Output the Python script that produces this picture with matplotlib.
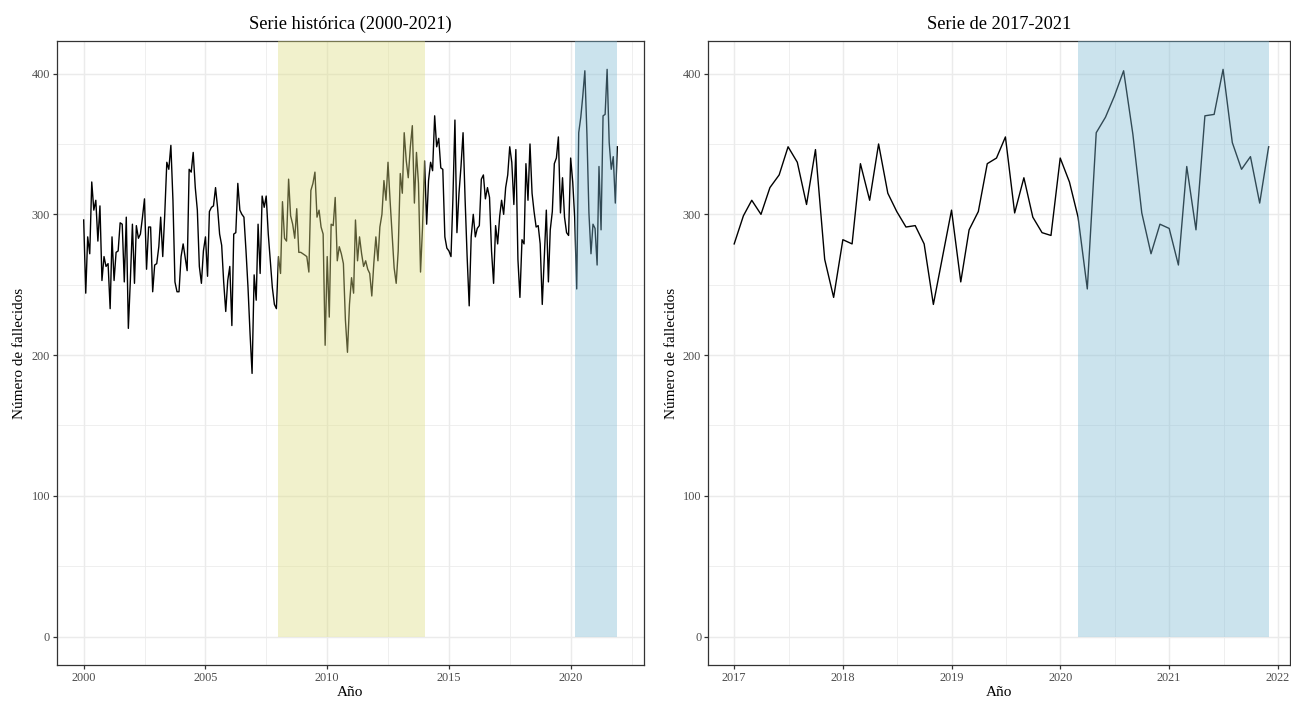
import datetime as dt

import matplotlib
matplotlib.use("Agg")
from matplotlib import pyplot as plt
import matplotlib.dates as mdates
import pandas as pd

plt.rcParams["font.family"] = ["Liberation Serif", "DejaVu Serif"]

# Fallecidos mensuales, de enero a diciembre
fallecidos_2000_2003 = [
    296, 244, 284, 272, 323, 303, 310, 281, 306, 253, 270, 263,
    265, 233, 284, 253, 273, 274, 294, 293, 252, 298, 219, 253,
    293, 251, 292, 283, 286, 298, 311, 261, 291, 291, 245, 264,
    265, 277, 298, 270, 300, 337, 332, 349, 310, 252, 245, 245,
]
fallecidos_2004_2007 = [
    270, 279, 270, 260, 332, 330, 344, 319, 303, 263, 251, 274,
    284, 256, 302, 305, 306, 319, 305, 286, 278, 252, 231, 253,
    263, 221, 286, 287, 322, 303, 300, 298, 274, 248, 215, 187,
    257, 239, 293, 258, 313, 305, 313, 286, 267, 248, 236, 233,
]
fallecidos_2008_2011 = [
    270, 258, 309, 283, 281, 325, 299, 293, 283, 304, 273, 273,
    272, 271, 270, 259, 317, 322, 330, 298, 303, 291, 286, 207,
    270, 227, 293, 292, 312, 267, 277, 272, 265, 225, 202, 236,
    255, 244, 296, 267, 284, 272, 263, 267, 261, 258, 242, 265,
]
fallecidos_2012_2016 = [
    284, 267, 291, 300, 324, 310, 337, 310, 286, 262, 251, 274,
    329, 315, 358, 338, 326, 348, 363, 308, 344, 322, 259, 291,
    338, 293, 324, 337, 331, 370, 348, 354, 333, 332, 284, 276,
    274, 270, 310, 367, 287, 315, 334, 358, 310, 270, 235, 284,
    300, 284, 290, 292, 325, 328, 311, 319, 312, 274, 251, 292,
]
fallecidos_2017_2021 = [
    279, 299, 310, 300, 319, 328, 348, 337, 307, 346, 268, 241,
    282, 279, 336, 310, 350, 315, 302, 291, 292, 279, 236, 269,
    303, 252, 289, 302, 336, 340, 355, 301, 326, 298, 287, 285,
    340, 323, 298, 247, 358, 369, 384, 402, 357, 301, 272, 293,
    290, 264, 334, 289, 370, 371, 403, 351, 332, 341, 308, 348,
]

fallecidos = (fallecidos_2000_2003 + fallecidos_2004_2007 + fallecidos_2008_2011
              + fallecidos_2012_2016 + fallecidos_2017_2021)
fechas = pd.date_range("2000-01-01", periods=len(fallecidos), freq="MS")
serie = pd.Series(fallecidos, index=fechas)

# Periodos sombreados (inicio, fin, color)
periodo_crisis = ("2008-01-01", "2014-01-01", "#DEDE80")
periodo_covid = ("2020-03-01", "2021-12-01", "#7DB9D4")

GRID = "#EBEBEB"
BORDE = "#333333"


def dibujar(ax, s, periodos, paso, titulo, margen=(0.05, 0.05)):
    xn = mdates.date2num(s.index.to_pydatetime())
    ax.plot(xn, s.values, color="black", lw=1.0, zorder=2)

    ymax = s.max()
    ylo, yhi = -0.05 * ymax, 1.05 * ymax
    for ini, fin, color in periodos:
        xs = mdates.date2num([pd.Timestamp(ini), pd.Timestamp(fin)])
        ax.fill_between(xs, 0, yhi, color=color, alpha=0.4, lw=0, zorder=3)

    rango = xn[-1] - xn[0]
    xmin, xmax = xn[0] - margen[0] * rango, xn[-1] + margen[1] * rango
    ax.set_xlim(xmin, xmax)
    ax.set_ylim(ylo, yhi)

    anio0 = s.index[0].year
    mayores = [mdates.date2num(dt.datetime(a, 1, 1)) for a in range(anio0 - paso, anio0 + 40, paso)]
    menores = [(a + b) / 2 for a, b in zip(mayores[:-1], mayores[1:])]
    ax.set_xticks([m for m in mayores if xmin <= m <= xmax])
    ax.set_xticks([m for m in menores if xmin <= m <= xmax], minor=True)
    ax.xaxis.set_major_formatter(mdates.DateFormatter("%Y"))
    ax.set_yticks(range(0, 401, 100))
    ax.set_yticks(range(50, 400, 100), minor=True)

    ax.set_axisbelow(True)
    ax.grid(which="major", color=GRID, lw=1.07)
    ax.grid(which="minor", color=GRID, lw=0.55)
    for sp in ax.spines.values():
        sp.set_color(BORDE)
        sp.set_linewidth(0.9)
    ax.tick_params(which="major", length=2.75, width=0.9, color=BORDE,
                   labelsize=8.8, labelcolor="#4D4D4D", pad=2.2)
    ax.tick_params(which="minor", length=0)

    ax.set_title(titulo, fontsize=13.2, pad=9)
    ax.set_xlabel("Año", fontsize=11)
    ax.set_ylabel("Número de fallecidos", fontsize=11)
    ax.xaxis.set_label_coords(0.5, -0.034)
    ax.yaxis.set_label_coords(-0.052, 0.5)


W, H = 1291, 702
fig = plt.figure(figsize=(W / 100, H / 100), dpi=100)
ax1 = fig.add_axes([57 / W, 1 - 665 / H, 587 / W, 624 / H])
ax2 = fig.add_axes([708 / W, 1 - 665 / H, 582 / W, 624 / H])

dibujar(ax1, serie, [periodo_crisis, periodo_covid], 5, "Serie histórica (2000-2021)")
dibujar(ax2, serie["2017-01-01":], [periodo_covid], 1, "Serie de 2017-2021",
        margen=(0.049, 0.040))

fig.savefig("out.png", dpi=100)
